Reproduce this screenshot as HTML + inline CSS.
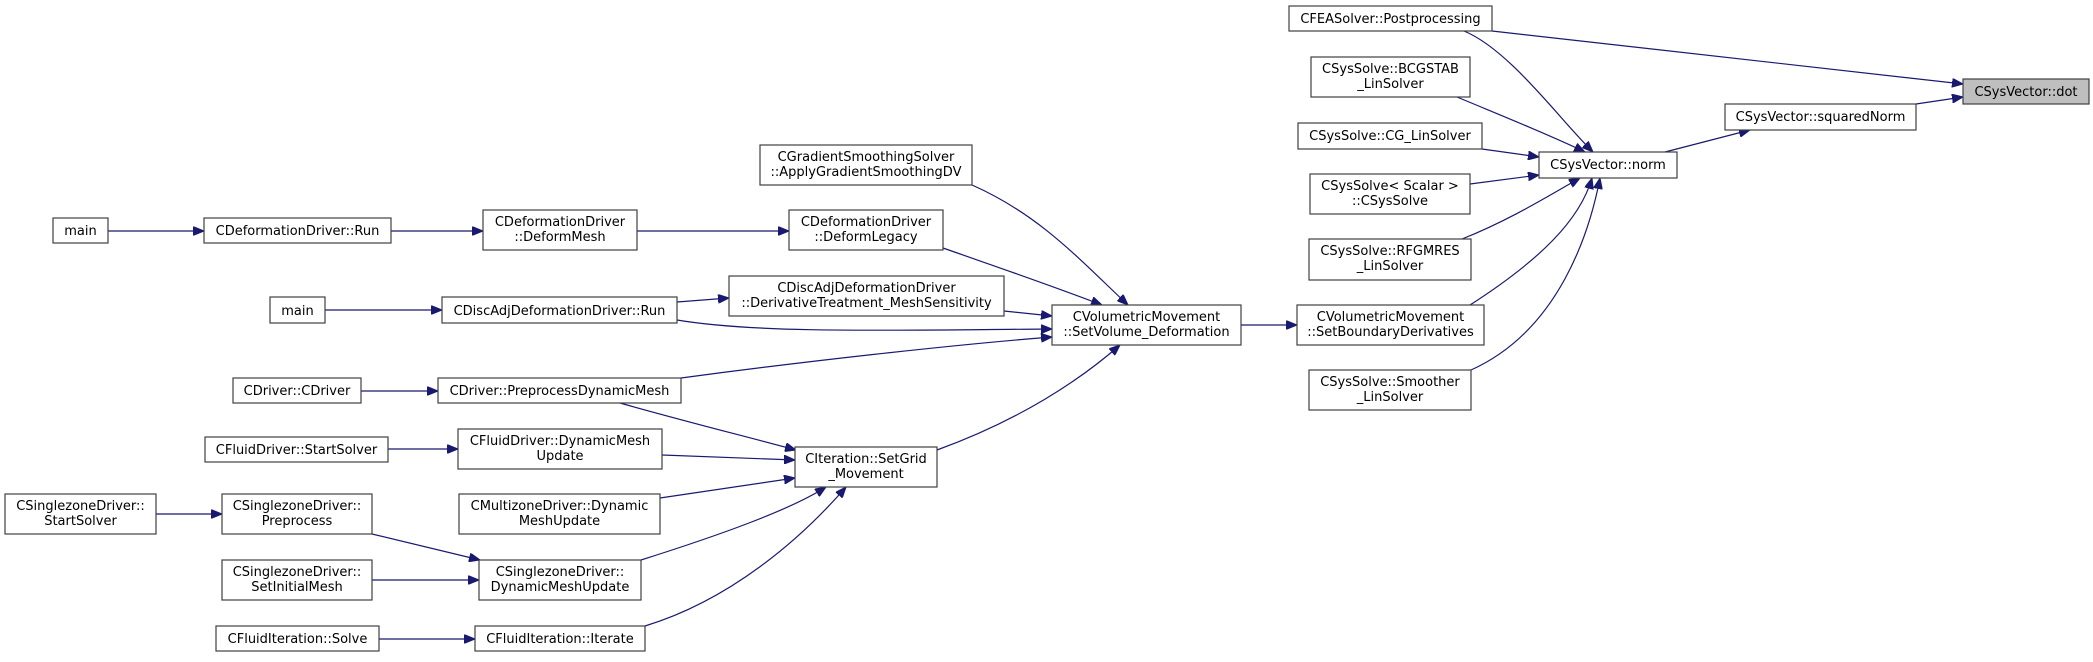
<!DOCTYPE html>
<html><head><meta charset="utf-8"><style>
html,body{margin:0;padding:0;background:#fff;}
svg text{font-family:"DejaVu Sans","Liberation Sans",sans-serif;font-size:13px;fill:#000;}
</style></head><body>
<svg width="2093" height="657" viewBox="0 0 2093 657" xmlns="http://www.w3.org/2000/svg">
<defs>
<marker id="a" markerWidth="12" markerHeight="9" refX="11" refY="4.5" orient="auto" markerUnits="userSpaceOnUse">
<path d="M0,0 L11,4.5 L0,9 z" fill="#191970" stroke="#191970"/>
</marker>
</defs>
<g fill="none" stroke="#191970" stroke-width="1.2" marker-end="url(#a)">
<path d="M108,231 L204,231"/>
<path d="M391,231 L483,231"/>
<path d="M637,231 L789,231"/>
<path d="M943,248 C1000,268 1050,285 1102,305"/>
<path d="M972,185 C1040,215 1080,260 1128,305"/>
<path d="M1004,311 L1052,316"/>
<path d="M325,310 L442,310"/>
<path d="M677,302 L729,298"/>
<path d="M677,320 C760,334 900,330 1052,329"/>
<path d="M681,378 C800,362 950,345 1052,337"/>
<path d="M620,403 C680,420 740,435 796,450"/>
<path d="M361,391 L438,391"/>
<path d="M388,449 L458,449"/>
<path d="M662,455 L795,460"/>
<path d="M660,498 L795,478"/>
<path d="M156,514 L222,514"/>
<path d="M372,534 L480,560"/>
<path d="M372,580 L479,580"/>
<path d="M641,560 C720,535 790,510 826,487"/>
<path d="M379,639 L475,639"/>
<path d="M645,626 C730,600 800,540 846,487"/>
<path d="M937,450 C1020,420 1080,380 1120,345"/>
<path d="M1241,325 L1297,325"/>
<path d="M1470,305 C1540,260 1580,220 1592,178"/>
<path d="M1464,31 C1510,50 1560,120 1593,152"/>
<path d="M1457,97 C1500,115 1550,135 1585,152"/>
<path d="M1482,149 L1539,157"/>
<path d="M1470,184 L1539,175"/>
<path d="M1462,239 C1510,220 1550,195 1580,178"/>
<path d="M1471,370 C1560,330 1590,230 1600,178"/>
<path d="M1665,152 L1750,130"/>
<path d="M1916,104 L1963,97"/>
<path d="M1492,31 L1963,84"/>
</g>
<g stroke="#404040" stroke-width="1.2" fill="#fff">
<rect x="53" y="218" width="55" height="25"/>
<rect x="204" y="218" width="187" height="25"/>
<rect x="483" y="210" width="154" height="40"/>
<rect x="270" y="297" width="55" height="26"/>
<rect x="442" y="297" width="235" height="26"/>
<rect x="233" y="378" width="128" height="25"/>
<rect x="438" y="378" width="243" height="25"/>
<rect x="205" y="437" width="183" height="25"/>
<rect x="458" y="429" width="204" height="40"/>
<rect x="5" y="494" width="151" height="40"/>
<rect x="222" y="494" width="150" height="40"/>
<rect x="459" y="494" width="201" height="40"/>
<rect x="222" y="560" width="150" height="40"/>
<rect x="479" y="560" width="162" height="40"/>
<rect x="216" y="626" width="163" height="25"/>
<rect x="475" y="626" width="170" height="25"/>
<rect x="760" y="145" width="212" height="40"/>
<rect x="789" y="210" width="154" height="40"/>
<rect x="729" y="276" width="275" height="40"/>
<rect x="1052" y="305" width="189" height="40"/>
<rect x="795" y="447" width="142" height="40"/>
<rect x="1297" y="305" width="187" height="40"/>
<rect x="1289" y="6" width="203" height="25"/>
<rect x="1311" y="57" width="159" height="40"/>
<rect x="1298" y="123" width="184" height="26"/>
<rect x="1310" y="174" width="160" height="40"/>
<rect x="1309" y="239" width="162" height="41"/>
<rect x="1309" y="370" width="162" height="40"/>
<rect x="1539" y="152" width="138" height="26"/>
<rect x="1725" y="104" width="191" height="26"/>
<rect x="1963" y="79" width="126" height="25" fill="#bfbfbf"/>
</g>
<g text-anchor="middle">
<text x="80.5" y="235">main</text>
<text x="297.5" y="235">CDeformationDriver::Run</text>
<text x="560" y="226">CDeformationDriver</text><text x="560" y="241">::DeformMesh</text>
<text x="297.5" y="315">main</text>
<text x="559.5" y="315">CDiscAdjDeformationDriver::Run</text>
<text x="297" y="395">CDriver::CDriver</text>
<text x="559.5" y="395">CDriver::PreprocessDynamicMesh</text>
<text x="296.5" y="454">CFluidDriver::StartSolver</text>
<text x="560" y="445">CFluidDriver::DynamicMesh</text><text x="560" y="460">Update</text>
<text x="80.5" y="510">CSinglezoneDriver::</text><text x="80.5" y="525">StartSolver</text>
<text x="297" y="510">CSinglezoneDriver::</text><text x="297" y="525">Preprocess</text>
<text x="559.5" y="510">CMultizoneDriver::Dynamic</text><text x="559.5" y="525">MeshUpdate</text>
<text x="297" y="576">CSinglezoneDriver::</text><text x="297" y="591">SetInitialMesh</text>
<text x="560" y="576">CSinglezoneDriver::</text><text x="560" y="591">DynamicMeshUpdate</text>
<text x="297.5" y="643">CFluidIteration::Solve</text>
<text x="560" y="643">CFluidIteration::Iterate</text>
<text x="866" y="161">CGradientSmoothingSolver</text><text x="866" y="176">::ApplyGradientSmoothingDV</text>
<text x="866" y="226">CDeformationDriver</text><text x="866" y="241">::DeformLegacy</text>
<text x="866.5" y="292">CDiscAdjDeformationDriver</text><text x="866.5" y="307">::DerivativeTreatment_MeshSensitivity</text>
<text x="1146.5" y="321">CVolumetricMovement</text><text x="1146.5" y="336">::SetVolume_Deformation</text>
<text x="866" y="463">CIteration::SetGrid</text><text x="866" y="478">_Movement</text>
<text x="1390.5" y="321">CVolumetricMovement</text><text x="1390.5" y="336">::SetBoundaryDerivatives</text>
<text x="1390.5" y="23">CFEASolver::Postprocessing</text>
<text x="1390.5" y="73">CSysSolve::BCGSTAB</text><text x="1390.5" y="88">_LinSolver</text>
<text x="1390" y="140">CSysSolve::CG_LinSolver</text>
<text x="1390" y="190">CSysSolve&lt; Scalar &gt;</text><text x="1390" y="205">::CSysSolve</text>
<text x="1390" y="255">CSysSolve::RFGMRES</text><text x="1390" y="270">_LinSolver</text>
<text x="1390" y="386">CSysSolve::Smoother</text><text x="1390" y="401">_LinSolver</text>
<text x="1608" y="169">CSysVector::norm</text>
<text x="1820.5" y="121">CSysVector::squaredNorm</text>
<text x="2026" y="96">CSysVector::dot</text>
</g>
</svg>
</body></html>
